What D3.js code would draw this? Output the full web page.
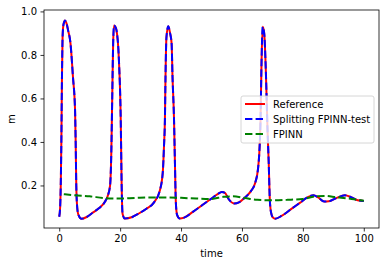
<!DOCTYPE html>
<html>
<head>
<meta charset="utf-8">
<script src="https://cdn.jsdelivr.net/npm/d3@7"></script>
<style>
    body { margin: 0; background: #fff; }
    text { font-family: "DejaVu Sans", sans-serif; }
</style>
</head>
<body>
<div id="chart"></div>
<script>
const seriesNames = ["Reference", "Splitting FPINN-test", "FPINN"];

// reference m(t)
const refTime = [0, 0.3, 0.5, 0.7, 0.9, 1.1, 1.4, 1.9, 2.4, 2.9, 3.7, 4.5, 5.2, 5.4, 5.6, 5.9, 6.3, 7.3,
    9, 11, 13, 15, 16, 16.7, 17.1, 17.4, 17.7, 18.0, 18.4, 18.8, 19.6, 20.2, 20.5, 20.8, 21.5,
    24, 26, 28.5, 31, 33, 34, 34.4, 34.7, 34.9, 35.2, 35.8, 36.4, 36.9, 37.2, 37.7, 38.0, 38.3, 38.7, 39.6,
    41, 44, 47, 50, 52, 53.4, 54.5, 55.5, 57.5, 59, 61, 63, 64.3, 65.3, 65.7, 66.1, 66.4, 66.8, 67.3, 67.8,
    68.4, 68.8, 69.1, 69.5, 70.2, 70.9, 73, 76, 79, 81.5, 83.5, 85, 87, 88.5, 91, 93.8, 96, 98, 100];
const refM = [0.056, 0.1, 0.2, 0.4, 0.7, 0.88, 0.94, 0.958, 0.945, 0.914, 0.853, 0.70, 0.546, 0.4, 0.2, 0.1, 0.065, 0.047,
    0.055, 0.075, 0.095, 0.125, 0.155, 0.2, 0.35, 0.6, 0.85, 0.935, 0.93, 0.914, 0.776, 0.5, 0.2, 0.07, 0.048,
    0.055, 0.07, 0.092, 0.12, 0.175, 0.26, 0.38, 0.5, 0.7, 0.88, 0.932, 0.9, 0.853, 0.7, 0.5, 0.3, 0.12, 0.065, 0.048,
    0.052, 0.08, 0.11, 0.14, 0.16, 0.17, 0.165, 0.14, 0.117, 0.122, 0.145, 0.175, 0.21, 0.28, 0.35, 0.5, 0.745, 0.929, 0.9, 0.745,
    0.454, 0.3, 0.15, 0.08, 0.052, 0.047, 0.06, 0.09, 0.12, 0.145, 0.155, 0.145, 0.126, 0.127, 0.142, 0.155, 0.145, 0.132, 0.129];

// splitting FPINN-test lies on top of the reference
const splitM = refM.slice();

const fpinnTime = [1.5, 5, 10, 15, 20, 25, 30, 35, 40, 45, 50, 54, 57, 61, 65, 70, 75, 80, 84, 87, 91, 96, 100];
const fpinnM = [0.16, 0.155, 0.15, 0.142, 0.14, 0.143, 0.145, 0.145, 0.143, 0.14, 0.138, 0.148, 0.15, 0.142, 0.134, 0.132, 0.134, 0.138, 0.15, 0.152, 0.146, 0.138, 0.13];

const xTicks = [0, 20, 40, 60, 80, 100];
const yTicks = [0.2, 0.4, 0.6, 0.8, 1.0];

const width = 386, height = 266;
const margin = {left: 44, right: 7, top: 10, bottom: 38};

const svg = d3.select("#chart").append("svg")
    .attr("width", width)
    .attr("height", height);

const x = d3.scaleLinear()
    .domain([-5, 105])
    .range([margin.left, width - margin.right]);

const y = d3.scaleLinear()
    .domain([0.0045, 1.0065])
    .range([height - margin.bottom, margin.top]);

const line = d3.line()
    .x(d => x(d[0]))
    .y(d => y(d[1]))
    .curve(d3.curveMonotoneX);

const plot = svg.append("g");

plot.append("path")
    .datum(d3.zip(refTime, refM))
    .attr("fill", "none")
    .attr("stroke", "#ff0000")
    .attr("stroke-width", 2)
    .attr("d", line);

plot.append("path")
    .datum(d3.zip(refTime, splitM))
    .attr("fill", "none")
    .attr("stroke", "#0000ff")
    .attr("stroke-width", 2)
    .attr("stroke-dasharray", "7.4,3.2")
    .attr("d", line);

plot.append("path")
    .datum(d3.zip(fpinnTime, fpinnM))
    .attr("fill", "none")
    .attr("stroke", "#008000")
    .attr("stroke-width", 2)
    .attr("stroke-dasharray", "7.4,3.2")
    .attr("d", line);

// axes
const xAxis = svg.append("g")
    .attr("transform", `translate(0,${height - margin.bottom})`)
    .call(d3.axisBottom(x).tickValues(xTicks).tickSize(3.5).tickPadding(3.5).tickFormat(d3.format("d")));

const yAxis = svg.append("g")
    .attr("transform", `translate(${margin.left},0)`)
    .call(d3.axisLeft(y).tickValues(yTicks).tickSize(3.5).tickPadding(3.5).tickFormat(d3.format(".1f")));

[xAxis, yAxis].forEach(g => {
    g.select(".domain").remove();
    g.selectAll(".tick line").attr("stroke", "#000").attr("stroke-width", 0.8);
    g.selectAll(".tick text").attr("fill", "#000").style("font-size", "10px").style("font-family", "DejaVu Sans");
});

// frame
svg.append("rect")
    .attr("x", margin.left)
    .attr("y", margin.top)
    .attr("width", width - margin.left - margin.right)
    .attr("height", height - margin.top - margin.bottom)
    .attr("fill", "none")
    .attr("stroke", "#000")
    .attr("stroke-width", 0.8);

svg.append("text")
    .attr("x", (margin.left + width - margin.right) / 2)
    .attr("y", 257)
    .attr("text-anchor", "middle")
    .style("font-size", "10px")
    .text("time");

svg.append("text")
    .attr("transform", `translate(15,${(margin.top + height - margin.bottom) / 2}) rotate(-90)`)
    .attr("text-anchor", "middle")
    .style("font-size", "10px")
    .text("m");

// legend
const legend = svg.append("g").attr("transform", "translate(241,96)");

legend.append("rect")
    .attr("width", 133)
    .attr("height", 47)
    .attr("rx", 2)
    .attr("fill", "#fff")
    .attr("fill-opacity", 0.8)
    .attr("stroke", "#cccccc")
    .attr("stroke-width", 0.8);

const legendColors = ["#ff0000", "#0000ff", "#008000"];
const legendDash = [null, "7.4,3.2", "7.4,3.2"];

seriesNames.forEach((name, i) => {
    const row = legend.append("g").attr("transform", `translate(0,${8 + i * 15})`);
    row.append("line")
        .attr("x1", 4).attr("x2", 24)
        .attr("stroke", legendColors[i])
        .attr("stroke-width", 2)
        .attr("stroke-dasharray", legendDash[i]);
    row.append("text")
        .attr("x", 32)
        .attr("y", 3.5)
        .style("font-size", "10px")
        .text(name);
});
</script>
</body>
</html>
